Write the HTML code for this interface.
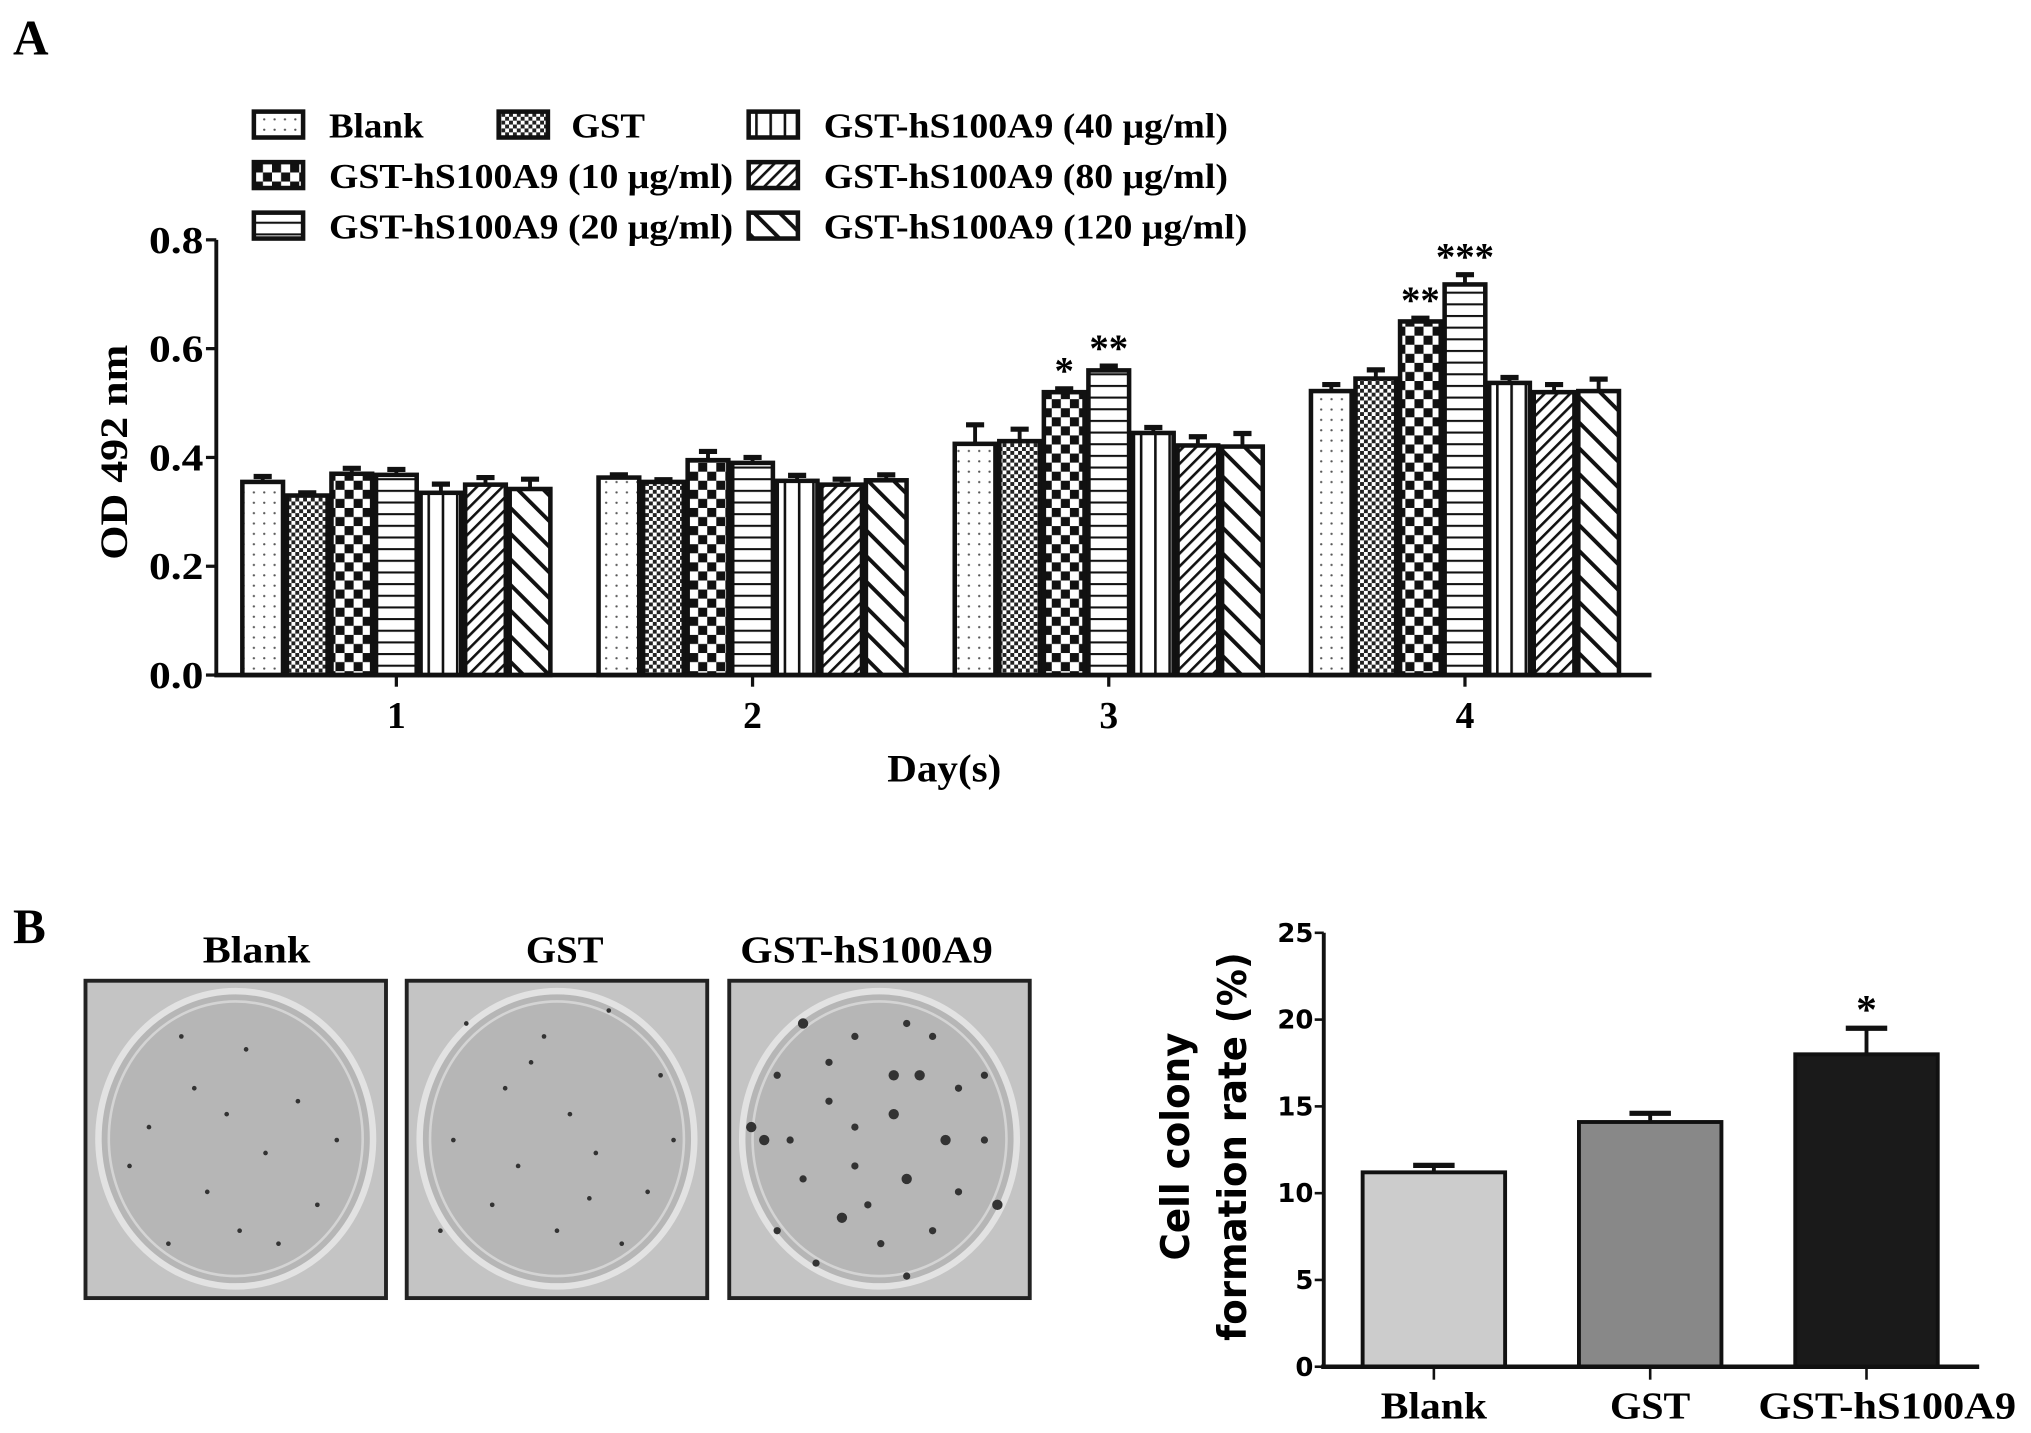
<!DOCTYPE html>
<html><head><meta charset="utf-8"><style>
html,body{margin:0;padding:0;background:#fff;}
svg{display:block;}
.ser{font-family:"Liberation Serif",serif;font-weight:bold;}
.san{font-family:"DejaVu Sans","Liberation Sans",sans-serif;font-weight:bold;}
</style></head><body>
<svg id="fig" width="2031" height="1433" viewBox="0 0 1568 1106" xmlns="http://www.w3.org/2000/svg">
<defs>
<pattern id="p0" width="8" height="8" patternUnits="userSpaceOnUse"><rect width="8" height="8" fill="#fff"/><circle cx="4" cy="4" r="0.9" fill="#555"/></pattern>
<pattern id="p1" width="6" height="6" patternUnits="userSpaceOnUse"><rect width="6" height="6" fill="#fff"/><rect width="3" height="3" fill="#222"/><rect x="3" y="3" width="3" height="3" fill="#222"/></pattern>
<pattern id="p2" width="14" height="14" patternUnits="userSpaceOnUse"><rect width="14" height="14" fill="#fff"/><rect width="7" height="7" fill="#111"/><rect x="7" y="7" width="7" height="7" fill="#111"/></pattern>
<pattern id="p3" width="10" height="9" patternUnits="userSpaceOnUse"><rect width="10" height="9" fill="#fff"/><rect y="0" width="10" height="1.6" fill="#111"/></pattern>
<pattern id="p4" width="11" height="10" patternUnits="userSpaceOnUse"><rect width="11" height="10" fill="#fff"/><rect x="0" width="2" height="10" fill="#111"/></pattern>
<pattern id="p5" width="7" height="7" patternUnits="userSpaceOnUse" patternTransform="rotate(45)"><rect width="7" height="7" fill="#fff"/><rect width="2" height="7" fill="#111"/></pattern>
<pattern id="p6" width="14" height="14" patternUnits="userSpaceOnUse" patternTransform="rotate(-45)"><rect width="14" height="14" fill="#fff"/><rect width="3" height="14" fill="#111"/></pattern>
</defs>
<text class="ser" x="10" y="42" font-size="38">A</text>
<text class="ser" x="10" y="728" font-size="38">B</text>
<g id="chartA"></g>
<g id="legendA"></g>
<g id="photos"></g>
<g id="chartB"></g>
</svg>
<script>
const NS="http://www.w3.org/2000/svg";
function mk(p,tag,at,txt){const e=document.createElementNS(NS,tag);for(const k in at)e.setAttribute(k,at[k]);if(txt!==undefined)e.textContent=txt;p.appendChild(e);return e;}
function fit(e,w){e.setAttribute('textLength',w);e.setAttribute('lengthAdjust','spacingAndGlyphs');}

// ---- Panel A data ----
const days=["1","2","3","4"];
const seriesNames=["Blank","GST","GST-hS100A9 (10 μg/ml)","GST-hS100A9 (20 μg/ml)","GST-hS100A9 (40 μg/ml)","GST-hS100A9 (80 μg/ml)","GST-hS100A9 (120 μg/ml)"];
const vBlank=[0.355,0.363,0.425,0.522];
const vGST=[0.330,0.355,0.430,0.545];
const v10=[0.370,0.395,0.520,0.650];
const v20=[0.368,0.390,0.560,0.718];
const v40=[0.335,0.357,0.445,0.537];
const v80=[0.350,0.350,0.422,0.520];
const v120=[0.342,0.358,0.420,0.522];
const eBlank=[0.010,0.005,0.035,0.012];
const eGST=[0.005,0.004,0.022,0.016];
const e10=[0.010,0.016,0.006,0.006];
const e20=[0.010,0.010,0.008,0.018];
const e40=[0.016,0.010,0.010,0.010];
const e80=[0.013,0.010,0.016,0.014];
const e120=[0.018,0.010,0.024,0.022];
const starsA=[["","","","","","",""],["","","","","","",""],["","","*","**","","",""],["","","**","***","","",""]];
const yTicksA=[0,0.2,0.4,0.6,0.8];

const vals=[vBlank,vGST,v10,v20,v40,v80,v120];
const errs=[eBlank,eGST,e10,e20,e40,e80,e120];
const A=document.getElementById('chartA');
const ax0=167,ax1=1275,ay0=521,ay1=185;
const yA=v=>ay0-(v/0.8)*(ay0-ay1);
const xA=i=>306+i*275;
const bw=34.4;
days.forEach((d,di)=>{
  for(let s=0;s<7;s++){
    const x=xA(di)-bw*3.5+s*bw, v=vals[s][di], e=errs[s][di];
    const cx=x+bw/2;
    const eb=mk(A,'line',{x1:cx,x2:cx,y1:yA(v),y2:yA(v+e),stroke:'#111','stroke-width':3});
    
    
    const cap=mk(A,'line',{x1:cx-7,x2:cx+7,y1:yA(v+e),y2:yA(v+e),stroke:'#111','stroke-width':4});
    
    
    const r=mk(A,'rect',{x:x+1.5,y:yA(v),width:bw-3,height:ay0-yA(v),fill:'url(#p'+s+')',stroke:'#111','stroke-width':3.5});
    
    
    if(starsA[di][s]){
      const t=mk(A,'text',{x:cx,y:yA(v+e)-4,'text-anchor':'middle','font-size':30,class:'ser'},starsA[di][s]);
      
      
    }
  }
  const tk=mk(A,'line',{x1:xA(di),x2:xA(di),y1:ay0,y2:ay0+9,stroke:'#111','stroke-width':2.5});
  
  
  const tl=mk(A,'text',{x:xA(di),y:562,'text-anchor':'middle','font-size':29,class:'ser'},d);
  
  
});
mk(A,'line',{x1:ax0,x2:ax0,y1:ay1,y2:ay0+1.5,stroke:'#111','stroke-width':3});
mk(A,'line',{x1:ax0-1.5,x2:ax1,y1:ay0,y2:ay0,stroke:'#111','stroke-width':3.5});
yTicksA.forEach(t=>{
  mk(A,'line',{x1:ax0-8,x2:ax0,y1:yA(t),y2:yA(t),stroke:'#111','stroke-width':2.5});
  const l=mk(A,'text',{x:ax0-10,y:yA(t)+10,'text-anchor':'end','font-size':29,class:'ser'},t.toFixed(1));
  fit(l,42);
  
  
});
const xt=mk(A,'text',{x:729,y:603,'text-anchor':'middle','font-size':30,class:'ser'},'Day(s)');
fit(xt,88);


const yt=mk(A,'text',{x:0,y:0,transform:'translate(98,349) rotate(-90)','text-anchor':'middle','font-size':30,class:'ser','xml:space':'preserve'},'OD  492 nm');
fit(yt,166);



// legend
const L=document.getElementById('legendA');
const legPos=[[196,96],[385,96],[196,135],[196,174],[578,96],[578,135],[578,174]];
const legW=[73,57,312,312,312,312,327];
seriesNames.forEach((n,s)=>{
  const [x,y]=legPos[s];
  const g=mk(L,'g',{});
  
  
  mk(g,'rect',{x:x,y:y-10,width:38,height:20,fill:'url(#p'+s+')',stroke:'#111','stroke-width':3.5});
  const t=mk(g,'text',{x:x+(s===1?56:58),y:y+10,'font-size':27,class:'ser'},n);
  fit(t,legW[s]);
});

// ---- Photos ----
const P=document.getElementById('photos');
const photoX=[66,314,563];
const photoNames=["Blank","GST","GST-hS100A9"];
const labelCx=[198,436,669];
const labelW=[83,60,195];
const dots=[
 [[140,800],[150,840],[115,870],[190,810],[230,850],[205,890],[160,920],[245,930],[130,960],[185,950],[260,880],[100,900],[215,960],[175,860]],
 [[360,790],[420,800],[470,780],[390,840],[440,860],[510,830],[350,880],[400,900],[460,890],[500,920],[380,930],[430,950],[480,960],[340,950],[410,820],[455,925],[520,880]],
 [[620,790],[660,800],[700,790],[710,830],[600,830],[640,850],[690,860],[740,840],[760,880],[590,880],[620,910],[660,900],[700,910],[740,920],[600,950],[650,940],[680,960],[720,950],[770,930],[630,975],[700,985],[580,870],[610,880],[660,870],[730,880],[760,830],[640,820],[690,830],[720,800],[670,930]]
];
photoX.forEach((x,i)=>{
  const g=mk(P,'g',{});
  
  
  mk(g,'rect',{x:x,y:757,width:232,height:245,fill:'#c4c4c4',stroke:'#222','stroke-width':3});
  mk(g,'ellipse',{cx:x+116,cy:879,rx:106,ry:114,fill:'#b6b6b6',stroke:'#e2e2e2','stroke-width':5});
  mk(g,'ellipse',{cx:x+116,cy:879,rx:98,ry:106,fill:'none',stroke:'#d4d4d4','stroke-width':2});
  dots[i].forEach(([dx,dy],k)=>mk(g,'circle',{cx:dx,cy:dy,r:i===2?(k%3===0?4:2.8):1.8,fill:'#333'}));
  const t=mk(P,'text',{x:labelCx[i],y:743,'text-anchor':'middle','font-size':29,class:'ser'},photoNames[i]);
  fit(t,labelW[i]);
  
  
});

// ---- Panel B chart ----
const catsB=["Blank","GST","GST-hS100A9"];
const valsB=[11.2,14.1,18.0];
const errsB=[0.4,0.5,1.5];
const starsB=["","","*"];
const yTicksB=[0,5,10,15,20,25];
const fillsB=["#cccccc","#888888","#1a1a1a"];
const catW=[82,62,199];
const catShift=[0,0,16];
const B=document.getElementById('chartB');
const bx0=1022,bx1=1528,by0=1055,by1=720;
const yB=v=>by0-(v/25)*(by0-by1);
const xB=i=>1107+i*167;
catsB.forEach((c,i)=>{
  const v=valsB[i],e=errsB[i],cx=xB(i);
  mk(B,'line',{x1:cx,x2:cx,y1:yB(v),y2:yB(v+e),stroke:'#111','stroke-width':3});
  mk(B,'line',{x1:cx-16,x2:cx+16,y1:yB(v+e),y2:yB(v+e),stroke:'#111','stroke-width':4});
  const r=mk(B,'rect',{x:cx-55,y:yB(v),width:110,height:by0-yB(v),fill:fillsB[i],stroke:'#111','stroke-width':3});
  
  
  if(starsB[i]){
    const s=mk(B,'text',{x:cx,y:yB(v+e)-4,'text-anchor':'middle','font-size':32,class:'ser'},starsB[i]);
    
    
  }
  mk(B,'line',{x1:cx,x2:cx,y1:by0,y2:by0+10,stroke:'#111','stroke-width':2});
  const t=mk(B,'text',{x:cx+catShift[i],y:1095,'text-anchor':'middle','font-size':29,class:'ser'},c);
  fit(t,catW[i]);
  
  
});
mk(B,'line',{x1:bx0,x2:bx0,y1:by1,y2:by0,stroke:'#111','stroke-width':3});
mk(B,'line',{x1:bx0-2,x2:bx1,y1:by0,y2:by0,stroke:'#111','stroke-width':3.5});
yTicksB.forEach(t=>{
  mk(B,'line',{x1:bx0-7,x2:bx0,y1:yB(t),y2:yB(t),stroke:'#111','stroke-width':2});
  const l=mk(B,'text',{x:bx0-8,y:yB(t)+7,'text-anchor':'end','font-size':20,class:'san'},String(t));
  
  
});
const bt1=mk(B,'text',{x:0,y:0,transform:'translate(918,885) rotate(-90)','text-anchor':'middle','font-size':30,class:'san'},'Cell colony');
fit(bt1,176);


const bt2=mk(B,'text',{x:0,y:0,transform:'translate(962,885) rotate(-90)','text-anchor':'middle','font-size':30,class:'san'},'formation rate (%)');
fit(bt2,300);


</script>
</body></html>
